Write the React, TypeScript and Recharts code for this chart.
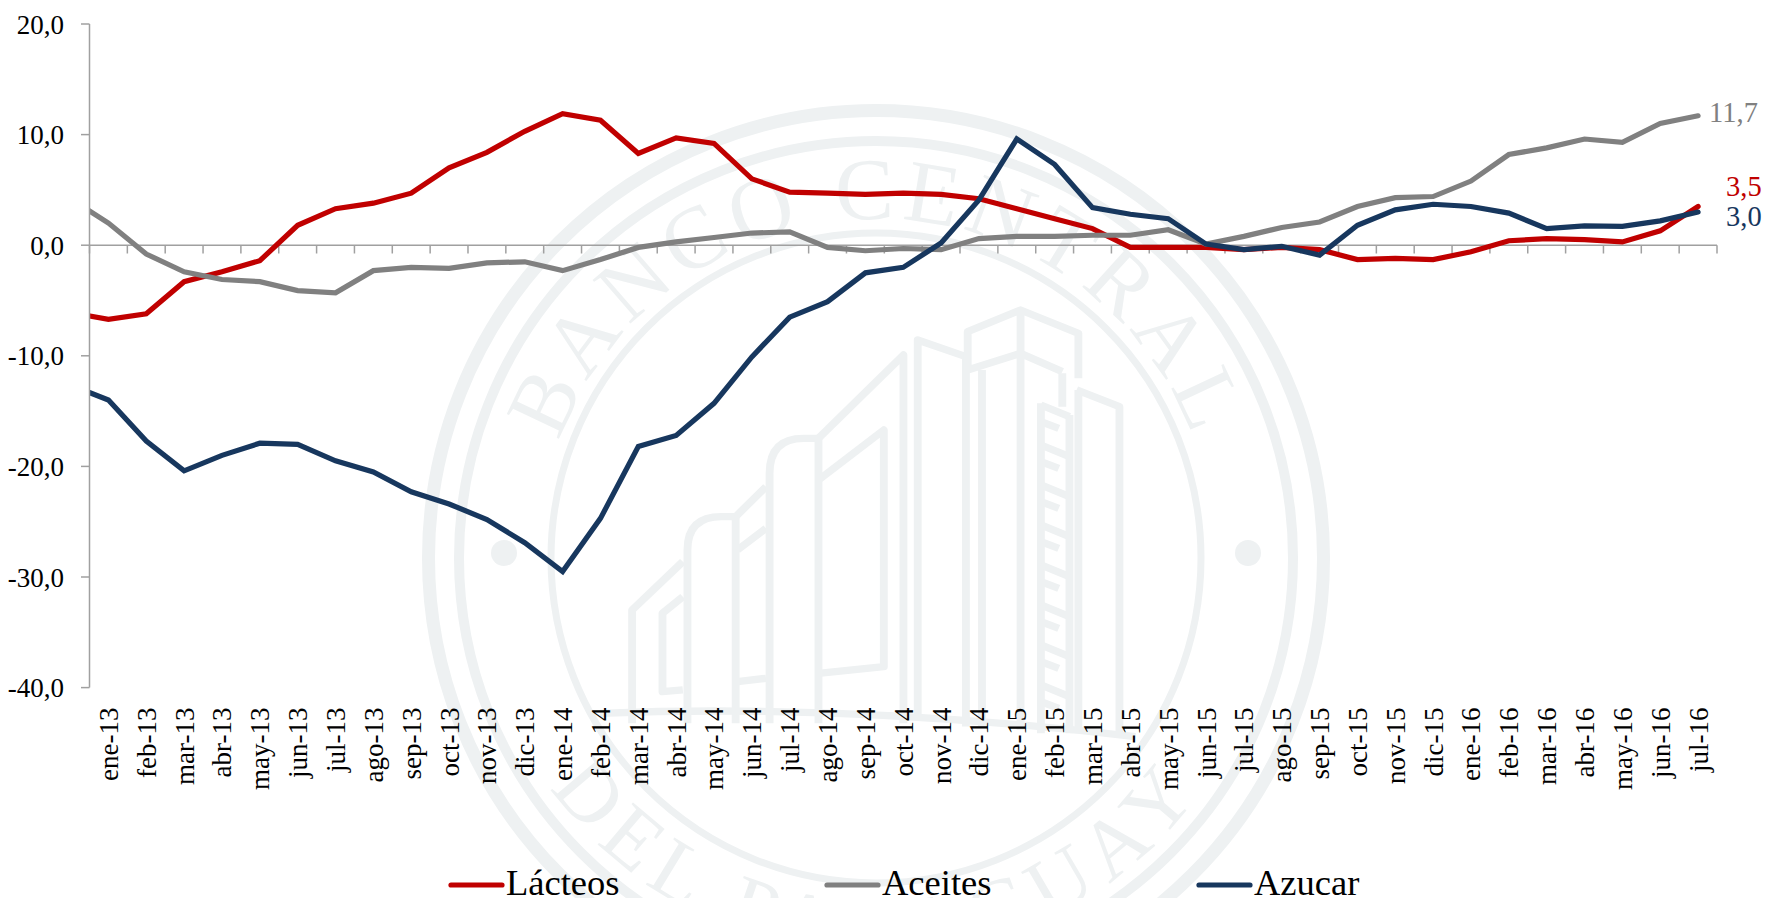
import React from "react";
import { LineChart, Line, XAxis, YAxis, ReferenceLine, Legend } from "recharts";

// dic-12 sits just outside the axis: it only sets the slope of the clipped first segment.
const months = [
  "dic-12",
  "ene-13","feb-13","mar-13","abr-13","may-13","jun-13","jul-13","ago-13","sep-13","oct-13","nov-13","dic-13",
  "ene-14","feb-14","mar-14","abr-14","may-14","jun-14","jul-14","ago-14","sep-14","oct-14","nov-14","dic-14",
  "ene-15","feb-15","mar-15","abr-15","may-15","jun-15","jul-15","ago-15","sep-15","oct-15","nov-15","dic-15",
  "ene-16","feb-16","mar-16","abr-16","may-16","jun-16","jul-16",
];
const lacteos = [
  -6.1,
  -6.7,-6.2,-3.3,-2.4,-1.4,1.8,3.3,3.8,4.7,7.0,8.4,10.3,
  11.9,11.3,8.3,9.7,9.2,6.0,4.8,4.7,4.6,4.7,4.6,4.2,
  3.3,2.4,1.5,-0.2,-0.2,-0.2,-0.4,-0.2,-0.4,-1.3,-1.2,-1.3,
  -0.6,0.4,0.6,0.5,0.3,1.3,3.5,
];
const aceites = [
  4.2,
  2.0,-0.8,-2.4,-3.1,-3.3,-4.1,-4.3,-2.3,-2.0,-2.1,-1.6,-1.5,
  -2.3,-1.3,-0.2,0.3,0.7,1.1,1.2,-0.2,-0.5,-0.3,-0.4,0.6,
  0.8,0.8,0.9,0.9,1.4,0.1,0.8,1.6,2.1,3.5,4.3,4.4,
  5.8,8.2,8.8,9.6,9.3,11.0,11.7,
];
const azucar = [
  -12.65,
  -14.0,-17.7,-20.4,-19.0,-17.9,-18.0,-19.5,-20.5,-22.3,-23.4,-24.8,-26.9,
  -29.5,-24.7,-18.2,-17.2,-14.3,-10.1,-6.5,-5.1,-2.5,-2.0,0.2,4.1,
  9.6,7.3,3.4,2.8,2.4,0.1,-0.4,-0.1,-0.9,1.8,3.2,3.7,
  3.5,2.9,1.5,1.75,1.7,2.2,3.0,
];
const yTicks = [-40, -30, -20, -10, 0, 10, 20];

const tableData = months.map((m, i) => ({
  idx: i,
  month: m,
  Lácteos: lacteos[i],
  Aceites: aceites[i],
  Azucar: azucar[i],
}));
const xTicks = months.map((_, i) => i).slice(1);
const bandEdges = months.map((_, i) => i + 0.5);

const FONT = "'Liberation Serif', serif";
const RED = "#C00000";
const GRAY = "#808080";
const NAVY = "#17375E";
const AXIS = "#A0A0A0";
const MARK = "#EEF1F2";

const fmt = (v: number) => v.toFixed(1).replace(".", ",");

const MonthTick = (p: any) => {
  const tx = p.x + 9.5;
  const ty = p.y + 12;
  return (
    <text
      transform={`rotate(-90 ${tx} ${ty})`}
      x={tx}
      y={ty}
      textAnchor="end"
      fontFamily={FONT}
      fontSize={27}
      fill="#000"
    >
      {months[p.payload.value]}
    </text>
  );
};

const endLabel = (color: string, dx: number, dy: number) => (p: any) => {
  if (p.index !== months.length - 1) return <g />;
  return (
    <text x={p.x + dx} y={p.y + dy} fontFamily={FONT} fontSize={28.5} fill={color}>
      {fmt(p.value)}
    </text>
  );
};

const legendX: Record<string, number> = { Lácteos: 448, Aceites: 824, Azucar: 1196 };

const LegendContent = (p: any) => (
  <div style={{ position: "relative", width: 1765, height: 0 }}>
    {(p.payload || []).map((it: any) => (
      <div key={it.value} style={{ position: "absolute", left: legendX[it.value], top: 0, height: 0 }}>
        <svg width={60} height={10} style={{ position: "absolute", left: 0, top: 18 }}>
          <line x1={3} x2={54} y1={5} y2={5} stroke={it.color} strokeWidth={5.2} strokeLinecap="round" />
        </svg>
        <span
          style={{
            position: "absolute",
            left: 58,
            top: 1,
            fontFamily: FONT,
            fontSize: 36.5,
            lineHeight: "40px",
            color: "#000",
            whiteSpace: "nowrap",
          }}
        >
          {it.value}
        </span>
      </div>
    ))}
  </div>
);

const rungs = [345, 465, 585, 705, 825, 945, 1065, 1185];

const Watermark = () => (
  <svg width={1765} height={898} style={{ position: "absolute", left: 0, top: 0 }}>
    <defs>
      <path id="arcTop" d="M 877 895 A 338 338 0 1 1 877.01 895" />
      <path id="arcBottom" d="M 477 557 A 400 400 0 0 0 1277 557" />
    </defs>
    <g fill="none" stroke={MARK}>
      <circle cx={876} cy={558} r={447.5} strokeWidth={13} />
      <circle cx={876} cy={558} r={417} strokeWidth={10} />
      <circle cx={876} cy={558} r={325} strokeWidth={7} />
    </g>
    <circle cx={504} cy={553} r={13} fill={MARK} />
    <circle cx={1248} cy={553} r={13} fill={MARK} />
    <text fontFamily={FONT} fontSize={88} fill={MARK} letterSpacing={7}>
      <textPath href="#arcTop" startOffset="50%" textAnchor="middle">BANCO CENTRAL</textPath>
    </text>
    <text fontFamily={FONT} fontSize={84} fill={MARK} letterSpacing={11}>
      <textPath href="#arcBottom" startOffset="50%" textAnchor="middle">DEL PARAGUAY</textPath>
    </text>
    <g
      transform="translate(600 290) scale(0.357 0.3333)"
      fill="none"
      stroke={MARK}
      strokeWidth={22}
      strokeLinejoin="round"
    >
      <path d="M90 1300 V960 L232 815" />
      <path d="M232 920 L175 970 V1205 L232 1200" />
      <path d="M245 1300 V780 Q245 680 340 680 H380 V1300" />
      <path d="M380 680 L465 590 M385 780 L465 715 M385 1175 L465 1165" />
      <path d="M475 1300 V550 Q475 445 570 445 H612 V1300" />
      <path d="M612 445 L850 195 V1300 M612 570 L795 420 V1130 L612 1150" />
      <path d="M890 1290 V150 L1025 200 V1310" />
      <path d="M1030 240 V125 L1178 60 L1340 130 V265 M1030 240 L1178 190 L1295 245 M1178 60 V1320 M1070 240 V1310" />
      <path d="M1295 250 V350 M1235 340 V1330 M1315 375 V1330" />
      {rungs.map((r) => (
        <path key={r} d={`M1235 ${r} L1315 ${r + 35} M1235 ${r + 50} L1285 ${r + 70}`} />
      ))}
      <path d="M1340 300 V1330 M1335 300 L1455 350 V1340" />
      <path d="M0 1270 Q700 1240 1500 1340" />
    </g>
  </svg>
);

export default function App() {
  return (
    <div style={{ position: "absolute", left: 0, top: 0, width: 1765, height: 898, background: "#fff", overflow: "hidden" }}>
      <Watermark />
      <div style={{ position: "absolute", left: 0, top: 0 }}>
        <LineChart
          width={1765}
          height={898}
          data={tableData}
          margin={{ top: 24, right: 48, bottom: 0, left: 0 }}
        >
          <XAxis
            dataKey="idx"
            type="number"
            domain={[0.5, 43.5]}
            allowDataOverflow
            ticks={xTicks}
            interval={0}
            tick={MonthTick}
            tickLine={false}
            axisLine={false}
            height={210.4}
          />
          <YAxis
            type="number"
            domain={[-40, 20]}
            ticks={yTicks}
            interval={0}
            width={89.5}
            tickFormatter={fmt}
            tickSize={8.5}
            tickMargin={17}
            tick={{ fontFamily: FONT, fontSize: 27, fill: "#000" }}
            tickLine={{ stroke: AXIS, strokeWidth: 1.5 }}
            axisLine={{ stroke: AXIS, strokeWidth: 1.5 }}
          />
          <ReferenceLine y={0} stroke={AXIS} strokeWidth={1.5} />
          {bandEdges.map((b) => (
            <ReferenceLine
              key={b}
              segment={[{ x: b, y: 0 }, { x: b, y: -0.75 }]}
              stroke={AXIS}
              strokeWidth={1.5}
            />
          ))}
          <Line
            dataKey="Lácteos"
            name="Lácteos"
            stroke={RED}
            strokeWidth={5.2}
            strokeLinecap="round"
            dot={false}
            isAnimationActive={false}
            label={endLabel(RED, 28, -10)}
          />
          <Line
            dataKey="Aceites"
            name="Aceites"
            stroke={GRAY}
            strokeWidth={5.2}
            strokeLinecap="round"
            dot={false}
            isAnimationActive={false}
            label={endLabel(GRAY, 11, 6)}
          />
          <Line
            dataKey="Azucar"
            name="Azucar"
            stroke={NAVY}
            strokeWidth={5.2}
            strokeLinecap="round"
            dot={false}
            isAnimationActive={false}
            label={endLabel(NAVY, 28, 14)}
          />
          <Legend
            content={LegendContent}
            wrapperStyle={{ left: 0, top: 862, bottom: "auto", width: 1765, height: 0 }}
          />
        </LineChart>
      </div>
    </div>
  );
}
